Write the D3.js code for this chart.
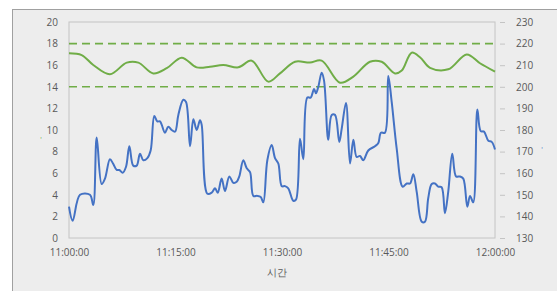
<!DOCTYPE html>
<html><head><meta charset="utf-8">
<script src="https://cdn.jsdelivr.net/npm/d3@7/dist/d3.min.js"></script>
<style>body{margin:0;background:#fff}svg{display:block}text{font-family:"Open Sans","Noto Sans",sans-serif}</style>
</head><body><svg id="c" width="557" height="291"></svg>
<script>
const blueTimes=["11:00:00","11:00:31","11:01:33","11:02:57","11:03:25","11:03:54","11:04:36","11:05:04","11:05:46","11:06:12","11:06:43","11:07:05","11:07:34","11:08:02","11:08:30","11:09:03","11:09:32","11:10:00","11:10:28","11:11:02","11:11:30","11:12:01","11:12:26","11:12:49","11:13:03","11:13:31","11:13:59","11:14:28","11:14:56","11:15:24","11:16:06","11:16:29","11:17:03","11:17:31","11:17:59","11:18:27","11:18:41","11:19:29","11:20:06","11:20:34","11:20:57","11:21:30","11:21:58","11:22:35","11:23:09","11:23:37","11:23:59","11:24:33","11:25:02","11:25:30","11:25:58","11:26:31","11:27:00","11:27:22","11:27:56","11:28:33","11:29:01","11:29:29","11:29:58","11:30:25","11:30:53","11:31:35","11:31:58","11:32:32","11:33:00","11:33:34","11:34:02","11:34:31","11:34:47","11:35:07","11:35:35","11:35:55","11:36:31","11:37:00","11:37:28","11:38:04","11:38:25","11:39:01","11:39:35","11:40:03","11:40:31","11:40:59","11:41:27","11:42:09","11:43:06","11:43:34","11:43:56","11:44:30","11:44:58","11:45:27","11:46:09","11:47:00","11:47:34","11:48:02","11:48:30","11:48:58","11:49:41","11:50:08","11:50:36","11:51:05","11:51:33","11:52:01","11:52:29","11:52:57","11:53:25","11:53:59","11:54:31","11:55:04","11:55:32","11:56:06","11:56:29","11:56:56","11:57:31","11:57:59","11:58:27","11:59:04","11:59:32","12:00:00"];
const blueValues=[2.9,1.6,4.0,4.0,3.05,9.3,5.0,5.5,7.3,6.9,6.3,6.3,6.05,6.6,8.5,6.7,6.7,7.8,7.2,7.4,8.1,11.3,10.8,10.8,10.5,9.75,10.3,10.0,9.85,11.4,12.8,12.6,8.5,11.0,10.0,10.9,10.5,4.1,4.2,4.6,4.2,5.5,4.35,5.7,5.1,5.2,5.7,7.2,6.45,6.1,3.9,3.9,3.8,3.3,7.2,8.6,7.4,6.9,4.8,4.8,4.6,3.45,3.55,9.2,7.3,13.0,13.0,13.8,13.4,14.0,15.3,14.6,9.1,11.4,11.4,8.9,10.15,12.5,6.9,9.1,7.5,7.6,7.2,8.1,8.5,8.8,9.75,9.75,15.0,12.6,8.3,4.75,5.05,5.05,5.9,4.3,1.5,1.5,3.7,5.0,5.05,4.75,4.7,2.3,4.3,7.8,5.7,5.7,5.5,2.9,3.9,3.3,11.9,9.9,9.85,9.0,8.9,8.2];
const greenTimes=["11:00:00","11:01:47","11:03:25","11:05:46","11:08:08","11:09:46","11:11:52","11:13:46","11:15:52","11:17:59","11:19:52","11:21:44","11:23:51","11:25:44","11:28:04","11:29:43","11:31:50","11:33:56","11:35:35","11:38:10","11:40:03","11:42:23","11:44:02","11:45:55","11:46:52","11:48:16","11:49:26","11:50:51","11:53:25","11:56:01","11:57:53","12:00:00"];
const greenValues=[215.5,214.7,210.1,205.8,211.2,211.2,206.2,208.6,213.5,209.0,209.3,210.1,209.0,212.1,202.4,206.2,211.6,211.2,212.1,201.9,204.7,211.6,211.6,206.2,207.5,215.8,213.7,208.8,208.1,215.0,210.9,207.0];
const limitValues=[200,220];
const leftTicks=[0,2,4,6,8,10,12,14,16,18,20];
const rightTicks=[130,140,150,160,170,180,190,200,210,220,230];
const xTickLabels=["11:00:00","11:15:00","11:30:00","11:45:00","12:00:00"];
const xTitle="시간";

const parse=d3.timeParse("%H:%M:%S");
const svg=d3.select("#c");
const L=69,R=495,T=22,B=238;
const x=d3.scaleTime().domain([parse("11:00:00"),parse("12:00:00")]).range([L,R]);
const yL=d3.scaleLinear().domain([0,20]).range([B,T]);
const yR=d3.scaleLinear().domain([130,230]).range([B,T]);
const blue="#4472C4",green="#70AD47",txt="#595959";

svg.append("rect").attr("x",12.5).attr("y",9.5).attr("width",560).attr("height",300).attr("fill","#ededed").attr("stroke","#a0a0a0");
svg.append("rect").attr("x",L).attr("y",T).attr("width",R-L).attr("height",B-T).attr("fill","none").attr("stroke","#c4c4c4");

// left axis
const gl=svg.append("g").attr("transform",`translate(${L},0)`).call(d3.axisLeft(yL).tickValues(leftTicks).tickSize(0).tickPadding(11));
gl.select(".domain").remove();
gl.selectAll("text").attr("fill",txt).style("font-size","10px");
// right axis
const gr=svg.append("g").attr("transform",`translate(${R},0)`).call(d3.axisRight(yR).tickValues(rightTicks).tickSize(0).tickPadding(21));
gr.select(".domain").remove();
gr.selectAll(".tick").append("line").attr("x1",5).attr("x2",10).attr("stroke","#c4c4c4");
gr.selectAll("text").attr("fill",txt).style("font-size","10px");
// x axis
const gx=svg.append("g").attr("transform",`translate(0,${B})`).call(d3.axisBottom(x).tickValues(xTickLabels.map(parse)).tickFormat(d3.timeFormat("%H:%M:%S")).tickSize(0).tickPadding(11));
gx.select(".domain").remove();
gx.selectAll("text").attr("fill",txt).style("font-size","10px");
svg.append("text").attr("x",277).attr("y",276).attr("text-anchor","middle").attr("fill",txt).style("font-size","9.5px").text(xTitle);

// tiny axis titles
svg.append("text").attr("x",41).attr("y",142).attr("text-anchor","middle").attr("fill",green).style("font-size","7px").text("'");
svg.append("text").attr("x",542).attr("y",152).attr("text-anchor","middle").attr("fill",blue).style("font-size","7px").text("'");

// limits
svg.selectAll(".lim").data(limitValues).enter().append("line").attr("x1",L).attr("x2",R)
 .attr("y1",d=>yR(d)).attr("y2",d=>yR(d)).attr("stroke",green).attr("stroke-width",1.6).attr("stroke-dasharray","8,5");

const gData=greenTimes.map((t,i)=>({t:parse(t),v:greenValues[i]}));
const bData=blueTimes.map((t,i)=>({t:parse(t),v:blueValues[i]}));
svg.append("path").datum(gData).attr("fill","none").attr("stroke",green).attr("stroke-width",2)
 .attr("d",d3.line().x(d=>x(d.t)).y(d=>yR(d.v)).curve(d3.curveCatmullRom.alpha(0.5)));
svg.append("path").datum(bData).attr("fill","none").attr("stroke",blue).attr("stroke-width",2)
 .attr("d",d3.line().x(d=>x(d.t)).y(d=>yL(d.v)).curve(d3.curveCatmullRom.alpha(0.5)));
</script></body></html>
